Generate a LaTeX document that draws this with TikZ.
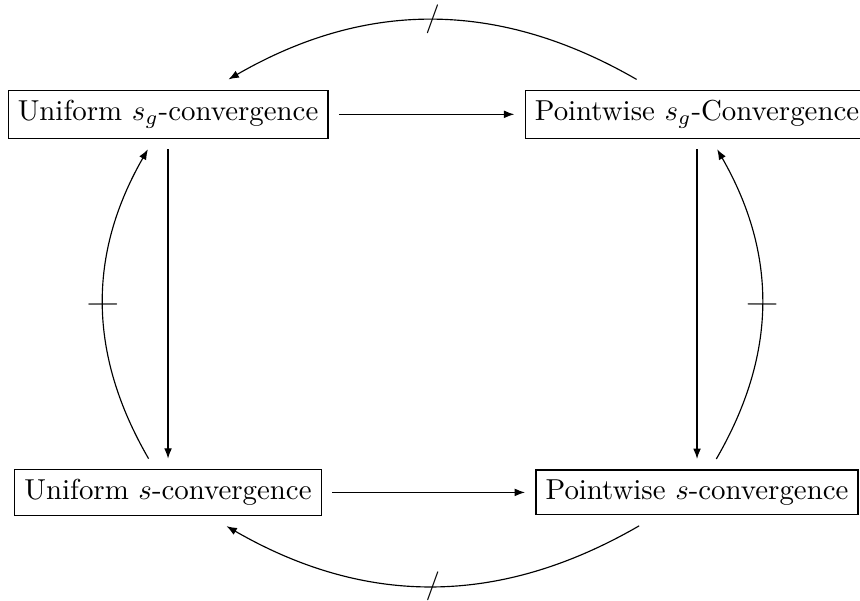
\documentclass[tikz,border=0pt]{standalone}
\usepackage{amsmath,amssymb}
\usetikzlibrary{arrows.meta}
\newcommand{\arw}{-{Latex[length=3.6pt]}}

\begin{document}
\begin{tikzpicture}[conv/.style={draw,outer sep=3.8pt}]
\useasboundingbox (0,0) rectangle (10.47,7.31);
%uniform
\node[conv] (ug) at (2.046,5.918) {Uniform $s_g$-convergence};
\node[conv] (us) at (2.046,1.315) {Uniform $s$-convergence};
%pointwise
\node[conv] (pg) at (8.486,5.918) {Pointwise $s_g$-Convergence};
\node[conv] (ps) at (8.486,1.315) {Pointwise $s$-convergence};
%implications
\draw[\arw] (ug) -- (pg);
\draw[\arw] (us) -- (ps);
\draw[\arw] (ug) -- (us);
\draw[\arw] (pg) -- (ps);
%non-implications
\draw[\arw] (pg) to[bend right=30] node {/} (ug);
\draw[\arw] (ps) to[bend left=30]  node {/} (us);
\draw[\arw] (us) to[bend left=30]  node[sloped] {$|$} (ug);
\draw[\arw] (ps) to[bend right=30] node[sloped] {$|$} (pg);
\end{tikzpicture}
\end{document}
